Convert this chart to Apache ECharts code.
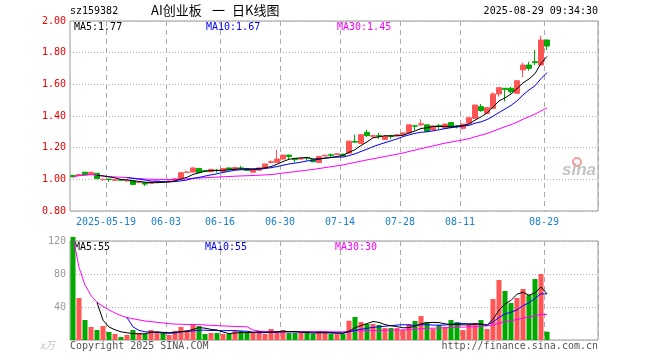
<!DOCTYPE html>
<html><head><meta charset="utf-8">
<script src="https://cdn.jsdelivr.net/npm/echarts@6/dist/echarts.min.js"></script>
<style>html,body{margin:0;padding:0;background:#fff}#c{width:660px;height:360px}</style>
</head><body><div id="c"></div><script>
const dates = ['2025-05-09','2025-05-12','2025-05-13','2025-05-14','2025-05-15','2025-05-16','2025-05-19','2025-05-20','2025-05-21','2025-05-22',
'2025-05-23','2025-05-26','2025-05-27','2025-05-28','2025-05-29','2025-05-30','2025-06-03','2025-06-04','2025-06-05','2025-06-06',
'2025-06-09','2025-06-10','2025-06-11','2025-06-12','2025-06-13','2025-06-16','2025-06-17','2025-06-18','2025-06-19','2025-06-20',
'2025-06-23','2025-06-24','2025-06-25','2025-06-26','2025-06-27','2025-06-30','2025-07-01','2025-07-02','2025-07-03','2025-07-04',
'2025-07-07','2025-07-08','2025-07-09','2025-07-10','2025-07-11','2025-07-14','2025-07-15','2025-07-16','2025-07-17','2025-07-18',
'2025-07-21','2025-07-22','2025-07-23','2025-07-24','2025-07-25','2025-07-28','2025-07-29','2025-07-30','2025-07-31','2025-08-01',
'2025-08-04','2025-08-05','2025-08-06','2025-08-07','2025-08-08','2025-08-11','2025-08-12','2025-08-13','2025-08-14','2025-08-15',
'2025-08-18','2025-08-19','2025-08-20','2025-08-21','2025-08-22','2025-08-25','2025-08-26','2025-08-27','2025-08-28','2025-08-29'];
const opens = [1.025,1.025,1.045,1.03,1.038,0.998,1.001,0.994,0.998,0.99,
0.99,0.98,0.979,0.975,0.983,0.985,0.985,0.994,1.004,1.044,
1.046,1.069,1.055,1.048,1.057,1.048,1.072,1.061,1.072,1.067,
1.045,1.058,1.076,1.107,1.107,1.128,1.153,1.132,1.128,1.138,
1.124,1.107,1.148,1.155,1.157,1.159,1.165,1.239,1.227,1.297,
1.272,1.276,1.252,1.276,1.276,1.282,1.293,1.338,1.344,1.344,
1.312,1.34,1.322,1.358,1.337,1.322,1.354,1.385,1.459,1.417,
1.448,1.539,1.575,1.575,1.543,1.691,1.722,1.743,1.722,1.88];
const closes = [1.016,1.03,1.03,1.044,1.005,1.0,0.999,0.997,0.995,0.993,
0.968,0.983,0.97,0.983,0.989,0.983,0.99,1.004,1.042,1.046,
1.072,1.042,1.052,1.063,1.055,1.069,1.061,1.074,1.07,1.057,
1.066,1.072,1.097,1.111,1.128,1.153,1.144,1.124,1.132,1.134,
1.111,1.144,1.152,1.152,1.161,1.148,1.241,1.235,1.282,1.276,
1.276,1.272,1.272,1.272,1.282,1.293,1.344,1.336,1.351,1.303,
1.337,1.337,1.349,1.328,1.332,1.349,1.389,1.469,1.434,1.453,
1.539,1.579,1.568,1.554,1.623,1.722,1.701,1.737,1.88,1.842];
const lows = [1.012,1.022,1.028,1.028,1.003,0.99,0.985,0.99,0.993,0.987,
0.966,0.978,0.958,0.972,0.98,0.98,0.982,0.992,1.002,1.04,
1.044,1.04,1.048,1.046,1.042,1.046,1.059,1.059,1.067,1.055,
1.043,1.056,1.074,1.1,1.105,1.126,1.128,1.107,1.124,1.118,
1.108,1.103,1.146,1.138,1.155,1.146,1.163,1.233,1.225,1.268,
1.262,1.256,1.25,1.256,1.274,1.28,1.29,1.309,1.334,1.3,
1.308,1.316,1.318,1.325,1.322,1.316,1.352,1.383,1.427,1.415,
1.446,1.522,1.491,1.543,1.541,1.644,1.686,1.722,1.72,1.817];
const highs = [1.027,1.033,1.047,1.05,1.04,1.003,1.004,1.0,0.999,0.996,
0.992,0.985,0.982,0.985,0.991,0.99,0.993,1.006,1.044,1.05,
1.075,1.072,1.058,1.065,1.065,1.071,1.074,1.076,1.085,1.069,
1.068,1.074,1.099,1.12,1.186,1.156,1.155,1.136,1.136,1.142,
1.126,1.146,1.155,1.163,1.163,1.161,1.243,1.282,1.284,1.313,
1.282,1.293,1.275,1.282,1.284,1.295,1.346,1.344,1.379,1.346,
1.34,1.349,1.352,1.36,1.34,1.351,1.392,1.472,1.476,1.456,
1.549,1.582,1.577,1.585,1.626,1.737,1.743,1.817,1.907,1.882];
const volumes = [125,50.9,24.2,15.8,12.1,17,9.7,7.3,3.6,6.1,
12.1,8.5,7.3,12.1,9.7,8.5,6.1,10.9,15.8,12.1,
19.4,17,7.3,8.5,8.5,7.3,7.3,10.9,10.9,8.5,
8.5,10.9,7.3,13.3,9.7,12.1,8.5,8.5,8.5,8.5,
7.3,10.9,8.5,7.3,7.3,7.3,23.4,27.9,21.8,19.4,
19.4,18.2,14.5,14.5,14.5,12.1,19.4,23,29.1,21.8,
13.3,18.2,15.8,24.2,21.8,12.1,18.2,20.6,24.2,13.3,
49.7,72.7,59.4,44.8,50.9,61.8,54.5,73.9,80,10.1];
const tickDates = ['2025-05-19','2025-06-03','2025-06-16','2025-06-30','2025-07-14','2025-07-28','2025-08-11','2025-08-29'];
const tickLabels = ['2025-05-19','06-03','06-16','06-30','07-14','07-28','08-11','08-29'];
const priceMaLabels = ['MA5:1.77','MA10:1.67','MA30:1.45'];
const volMaLabels = ['MA5:55','MA10:55','MA30:30'];
const titleParts = ['AI创业板', '一', '日K线图'];
const emptySlots = 8;

const RED = '#ff5555', GREEN = '#00a800';
const MONO = 'DejaVu Sans Mono';
const CJK = 'Noto Sans CJK SC';
const cats = dates.concat(Array.from({length: emptySlots}, (_, k) => 'pad' + k));
const kData = dates.map((d, i) => [opens[i], closes[i], lows[i], highs[i]]);
const volData = volumes.map((v, i) => ({value: v, itemStyle: {color: closes[i] >= opens[i] ? RED : GREEN}}));
function ma(arr, n, expanding) {
  return arr.map((_, i) => {
    if (i < n - 1 && !expanding) return '-';
    const s = Math.max(0, i - n + 1);
    let sum = 0;
    for (let k = s; k <= i; k++) sum += arr[k];
    return +(sum / (i - s + 1)).toFixed(4);
  });
}
const isTick = (idx, val) => tickDates.indexOf(val) >= 0;
const vSplit = {show: true, interval: isTick, lineStyle: {color: '#aaa', type: [5, 4], width: 1}};
const hSplit = {show: true, lineStyle: {color: '#b0b0b0', type: [1, 2], width: 1}};
const lineS = (name, data, color, xi, yi) => ({
  name, type: 'line', data, xAxisIndex: xi, yAxisIndex: yi, symbol: 'none', silent: true,
  lineStyle: {color, width: 1}, z: 5, animation: false
});
const chart = echarts.init(document.getElementById('c'));
const txt = (text, x, y, color, font) => ({type: 'text', left: x, top: y, silent: true,
  style: {text, fill: color, font: font || ('10px "' + MONO + '"')}});
chart.setOption({
  animation: false,
  backgroundColor: '#fff',
  grid: [
    {left: 70, top: 21, width: 528, height: 190, show: true, borderColor: '#999', borderWidth: 1},
    {left: 70, top: 241, width: 528, height: 99, show: true, borderColor: '#999', borderWidth: 1}
  ],
  xAxis: [
    {type: 'category', gridIndex: 0, data: cats, boundaryGap: true,
     axisLine: {show: false}, axisTick: {show: false},
     axisLabel: {interval: isTick, formatter: v => tickLabels[tickDates.indexOf(v)] || '',
       color: '#1a7fd0', fontFamily: MONO, fontSize: 10, margin: 6, padding: [0, 6, 0, 0]},
     splitLine: vSplit},
    {type: 'category', gridIndex: 1, data: cats, boundaryGap: true,
     axisLine: {show: false}, axisTick: {show: false}, axisLabel: {show: false},
     splitLine: vSplit}
  ],
  yAxis: [
    {type: 'value', gridIndex: 0, min: 0.8, max: 2.0, interval: 0.2,
     axisLine: {show: false}, axisTick: {show: false},
     axisLabel: {color: '#ee0000', fontFamily: MONO, fontSize: 10, margin: 4, formatter: v => v.toFixed(2)},
     splitLine: hSplit},
    {type: 'value', gridIndex: 1, min: 0, max: 120, interval: 40,
     axisLine: {show: false}, axisTick: {show: false},
     axisLabel: {color: '#999', fontFamily: MONO, fontSize: 10, margin: 4, formatter: v => v === 0 ? '' : String(v)},
     splitLine: hSplit}
  ],
  series: [
    {type: 'candlestick', name: 'K', data: kData, xAxisIndex: 0, yAxisIndex: 0, barWidth: 5,
     itemStyle: {color: RED, color0: GREEN, borderColor: RED, borderColor0: GREEN, borderWidth: 1}, z: 3},
    lineS('MA30', ma(closes, 30, true), '#ff00ff', 0, 0),
    lineS('MA10', ma(closes, 10, false), '#0000ff', 0, 0),
    lineS('MA5', ma(closes, 5, false), '#000000', 0, 0),
    {type: 'bar', name: 'VOL', data: volData, xAxisIndex: 1, yAxisIndex: 1, barWidth: 5, clip: false, z: 3},
    lineS('VMA30', ma(volumes, 30, true), '#ff00ff', 1, 1),
    lineS('VMA10', ma(volumes, 10, false), '#0000ff', 1, 1),
    lineS('VMA5', ma(volumes, 5, false), '#000000', 1, 1)
  ],
  graphic: [
    txt('sz159382', 70, 6, '#000'),
    txt(titleParts[0], 151, 4, '#000', '13px "' + CJK + '"'),
    txt(titleParts[1], 212, 4, '#000', '13px "' + CJK + '"'),
    txt(titleParts[2], 232, 4, '#000', '13px "' + CJK + '"'),
    {type: 'text', right: 62, top: 6, silent: true, style: {text: '2025-08-29 09:34:30', fill: '#000', font: '10px "' + MONO + '"'}},
    txt(priceMaLabels[0], 74, 22, '#000'),
    txt(priceMaLabels[1], 206, 22, '#0000ff'),
    txt(priceMaLabels[2], 337, 22, '#ff00ff'),
    txt(volMaLabels[0], 74, 242, '#000'),
    txt(volMaLabels[1], 205, 242, '#0000ff'),
    txt(volMaLabels[2], 335, 242, '#ff00ff'),
    txt('x万', 40, 340, '#c0c0c0', 'italic 10px "' + CJK + '"'),
    txt('Copyright 2025 SINA.COM', 70, 341, '#555'),
    {type: 'text', right: 62, top: 341, silent: true, style: {text: 'http://finance.sina.com.cn', fill: '#555', font: '10px "' + MONO + '"'}},
    {type: 'circle', silent: true, shape: {cx: 577, cy: 162, r: 4}, style: {fill: 'none', stroke: '#f4a0a0', lineWidth: 2}},
    {type: 'text', left: 562, top: 162, silent: true, style: {text: 'sina', fill: '#aaa', opacity: 0.7, font: 'italic bold 17px "Liberation Sans"'}}
  ]
});
</script></body></html>
